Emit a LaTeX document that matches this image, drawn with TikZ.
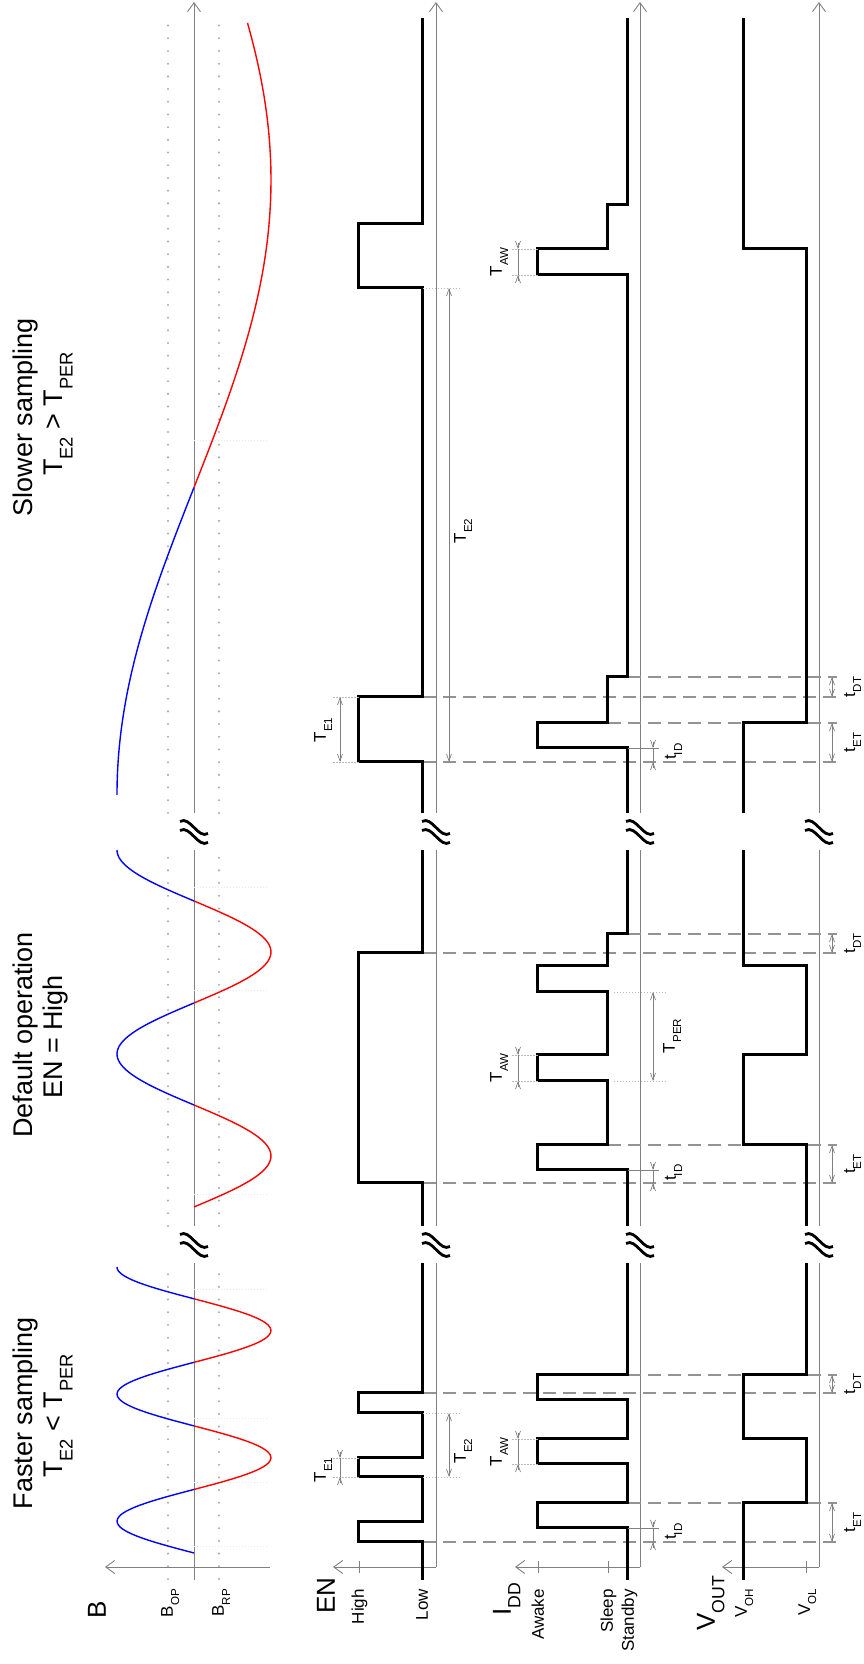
\documentclass[tikz,border=0pt]{standalone}
\usepackage{fontspec}
\setmainfont{Liberation Sans}
\usetikzlibrary{arrows.meta}
\newcommand{\lo}[1]{\raisebox{-0.36em}{\scalebox{0.68}{#1}}}

\begin{document}
\begin{tikzpicture}[x=1pt,y=1pt,rotate=90,transform shape,
    every node/.style={inner sep=0pt},
    ttl/.style={font=\fontsize{27}{32}\selectfont},
    big/.style={font=\fontsize{26}{30}\selectfont},
    lbl/.style={font=\fontsize{17}{20}\selectfont},
    axline/.style={gray,line width=0.9pt},
    taxis/.style={gray,line width=0.9pt,-{Straight Barb[length=9pt,width=13pt]}},
    sig/.style={line width=3pt},
    guide/.style={gray!85,line width=2pt,dash pattern=on 13pt off 7pt},
    lvl/.style={gray!65,line width=2.3pt,line cap=round,dash pattern=on 0pt off 12.7pt},
    helper/.style={gray!18,line width=1pt,dash pattern=on 1pt off 2pt},
    extline/.style={gray!55,line width=0.7pt,dash pattern=on 1.5pt off 1.5pt},
    dimline/.style={gray,line width=0.7pt,>={Straight Barb[length=7pt,width=5pt]}},
    bwave/.style={line width=1.4pt},
    brk/.pic={\draw[line width=2.8pt] (10,14) .. controls (16,4) and (-8,-4) .. (-2,-14);
              \draw[line width=2.8pt] (1,14) .. controls (7,4) and (-17,-4) .. (-11,-14);}]
  \useasboundingbox (0,0) rectangle (1664,863);

  % axes
  \draw[axline] (84,669) -- (401,669) (438,669) -- (814,669);
  \draw[taxis] (851,669) -- (1662,669);
  \foreach \y in {427,223,44} {
    \draw[axline] (97,\y) -- (401,\y) (438,\y) -- (814,\y);
    \draw[taxis] (851,\y) -- (1662,\y);
  }
  \draw[taxis] (97,593) -- (97,758);
  \draw[taxis] (97,427) -- (97,530);
  \draw[taxis] (97,223) -- (97,348);
  \draw[taxis] (97,44) -- (97,141);
  \foreach \y in {504,325,255,57} \draw[axline] (91,\y) -- (103,\y);
  \foreach \y in {695,644} \draw[lvl] (85,\y) -- (401,\y) (438,\y) -- (814,\y) (851,\y) -- (1651,\y);
  \foreach \t in {117,181,245,374,469,673,776,1223} \draw[helper] (\t,669) -- (\t,595);

  % markers
  \foreach \t/\y in {122/440,271/440,481/440,711/440,902/440,967/440,
      161/235,289/235,519/255,730/235,941/255,987/235}
    \draw[guide] (\t,\y) -- (\t,26);

  % B
  \foreach \ta/\tb/\col in {111/174.6/blue,174.6/238.1/red,238.1/301.7/blue,301.7/365.2/red,365.2/397/blue}
    \draw[bwave,color=\col] plot[domain=\ta:\tb,samples=25,smooth] (\x,{669+77*sin((\x-111)/127.1*360)});
  \foreach \ta/\tb/\col in {457/559/red,559/661/blue,661/763/red,763/814/blue}
    \draw[bwave,color=\col] plot[domain=\ta:\tb,samples=25,smooth] (\x,{669-77*sin((\x-457)/204*360)});
  \foreach \ta/\tb/\col in {869/1176.5/blue,1176.5/1641/red}
    \draw[bwave,color=\col] plot[domain=\ta:\tb,samples=40,smooth] (\x,{669+77*cos((\x-869)/1230*360)});

  % EN
  \draw[sig] (84,440) -- (122,440) -- (122,504) -- (142,504) -- (142,440) -- (187,440) -- (187,504)
    -- (206,504) -- (206,440) -- (251,440) -- (251,504) -- (271,504) -- (271,440) -- (401,440);
  \draw[sig] (438,440) -- (481,440) -- (481,504) -- (711,504) -- (711,440) -- (814,440);
  \draw[sig] (851,440) -- (902,440) -- (902,504) -- (967,504) -- (967,440) -- (1376,440)
    -- (1376,504) -- (1440,504) -- (1440,440) -- (1646,440);

  % IDD
  \draw[sig] (84,235) -- (136,235) -- (136,325) -- (161,325) -- (161,235) -- (200,235) -- (200,325)
    -- (225,325) -- (225,235) -- (264,235) -- (264,325) -- (289,325) -- (289,235) -- (401,235);
  \draw[sig] (438,235) -- (494,235) -- (494,325) -- (519,325) -- (519,255) -- (583,255) -- (583,325)
    -- (609,325) -- (609,255) -- (672,255) -- (672,325) -- (698,325) -- (698,255) -- (730,255)
    -- (730,235) -- (814,235);
  \draw[sig] (851,235) -- (916,235) -- (916,325) -- (941,325) -- (941,255) -- (987,255) -- (987,235)
    -- (1389,235) -- (1389,325) -- (1415,325) -- (1415,255) -- (1459,255) -- (1459,235) -- (1646,235);

  % VOUT
  \draw[sig] (84,120) -- (161,120) -- (161,57) -- (225,57) -- (225,120) -- (289,120) -- (289,57) -- (401,57);
  \draw[sig] (438,57) -- (519,57) -- (519,120) -- (609,120) -- (609,57) -- (698,57) -- (698,120) -- (814,120);
  \draw[sig] (851,120) -- (941,120) -- (941,57) -- (1415,57) -- (1415,120) -- (1646,120);

  \foreach \t in {419.5,832.5} \foreach \y in {669,427,223,44} \pic at (\t,\y) {brk};

  % dimensions
  \foreach \t/\ya/\yb in {187/504/531,206/504/531,902/504/531,967/504/531,
      187/440/401,251/440/401,1376/440/401,
      200/325/352,225/325/352,583/325/352,609/325/352,1389/325/352,1415/325/352,
      583/249/196,672/249/196}
    \draw[extline] (\t,\ya) -- (\t,\yb);
  \foreach \t in {136,494,916} \draw[dimline] (\t,235) -- (\t,204);
  \foreach \ta/\tb/\y in {122/136/210,481/494/210,902/916/210,187/206/523,
      200/225/345,583/609/345,1389/1415/345} {
    \draw[dimline,->] (\ta-6,\y) -- (\ta,\y);
    \draw[dimline,->] (\tb+6,\y) -- (\tb,\y);
    \draw[dimline] (\ta,\y) -- (\tb,\y);
  }
  \foreach \ta/\tb/\y in {122/161/31,481/519/31,902/941/31,271/289/31,711/730/31,967/987/31,
      187/251/414,902/1376/414,902/967/523,583/672/210}
    \draw[dimline,<->] (\ta,\y) -- (\tb,\y);

  % titles
  \node[ttl,anchor=base] (ttlfast) at (251,830) {Faster sampling};
  \node[ttl,anchor=base] (ttlfastsub) at (248,800) {T\lo{E2} < T\lo{PER}};
  \node[ttl,anchor=base] (ttldef) at (629,830) {Default operation};
  \node[ttl,anchor=base] (ttldefsub) at (627,800) {EN = High};
  \node[ttl,anchor=base] (ttlslow) at (1247,830) {Slower sampling};
  \node[ttl,anchor=base] (ttlslowsub) at (1250,800) {T\lo{E2} > T\lo{PER}};

  % signal names
  \node[big,anchor=base west] (lblb) at (45,757) {B};
  \node[big,anchor=base west] (lblen) at (50,528) {EN};
  \node[big,anchor=base west] (lblidd) at (48,352) {I\lo{DD}};
  \node[big,anchor=base west] (lblvout) at (33,148) {V\lo{OUT}};
  \node[lbl,anchor=base east] (lblbop) at (75,690) {B\lo{OP}};
  \node[lbl,anchor=base east] (lblbrp) at (75,639) {B\lo{RP}};
  \node[lbl,anchor=base east] (lblhigh) at (75,499) {High};
  \node[lbl,anchor=base east] (lbllow) at (75,435) {Low};
  \node[lbl,anchor=base east] (lblawake) at (75,319) {Awake};
  \node[lbl,anchor=base east] (lblsleep) at (75,250) {Sleep};
  \node[lbl,anchor=base east] (lblstandby) at (75,229) {Standby};
  \node[lbl,anchor=base east] (lblvoh) at (75,116) {V\lo{OH}};
  \node[lbl,anchor=base east] (lblvol) at (75,53) {V\lo{OL}};

  % dimension labels
  \node[lbl,anchor=base] (te1fast) at (194,537) {T\lo{E1}};
  \node[lbl,anchor=base] (te1slow) at (934,537) {T\lo{E1}};
  \node[lbl,anchor=base] (te2fast) at (213,397) {T\lo{E2}};
  \node[lbl,anchor=base] (te2slow) at (1133,397) {T\lo{E2}};
  \node[lbl,anchor=base] (tawfast) at (212,361) {T\lo{AW}};
  \node[lbl,anchor=base] (tawdef) at (596,361) {T\lo{AW}};
  \node[lbl,anchor=base] (tawslow) at (1402,361) {T\lo{AW}};
  \node[lbl,anchor=base] (tper) at (628,188) {T\lo{PER}};
  \node[lbl,anchor=base west] (tidfast) at (124,187) {t\lo{ID}};
  \node[lbl,anchor=base west] (tiddef) at (483,187) {t\lo{ID}};
  \node[lbl,anchor=base west] (tidslow) at (904,187) {t\lo{ID}};
  \node[lbl,anchor=base] (tetfast) at (141.5,8) {t\lo{ET}};
  \node[lbl,anchor=base] (tetdef) at (500,8) {t\lo{ET}};
  \node[lbl,anchor=base] (tetslow) at (921.5,8) {t\lo{ET}};
  \node[lbl,anchor=base] (tdtfast) at (280,8) {t\lo{DT}};
  \node[lbl,anchor=base] (tdtdef) at (720.5,8) {t\lo{DT}};
  \node[lbl,anchor=base] (tdtslow) at (977,8) {t\lo{DT}};
\end{tikzpicture}
\end{document}
